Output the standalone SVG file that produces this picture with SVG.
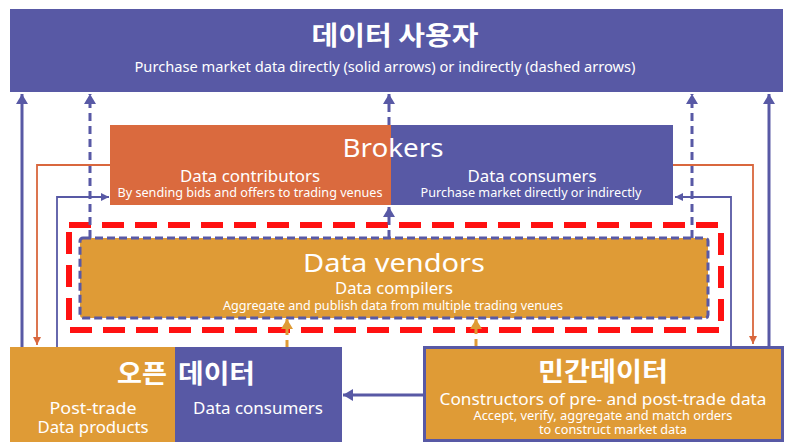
<svg xmlns="http://www.w3.org/2000/svg" width="790" height="446" viewBox="0 0 790 446">
<style>
  text { fill: #ffffff; font-family: "Noto Sans", "Noto Sans CJK KR", sans-serif; text-anchor: middle; }
  .ko { font-family: "Noto Sans CJK KR", "Noto Sans", sans-serif; font-weight: bold; }
  .t1 { font-size: 25px; }
  .t2 { font-size: 15.5px; }
  .t3 { font-size: 12px; }
  .blue { fill: #5859A5; }
  .gold { fill: #DF9B36; }
  .rust { fill: #DA6A3E; }
  .thick { stroke: #5859A5; stroke-width: 3; fill: none; }
  .dash { stroke-dasharray: 8 5; }
  .thinB { stroke: #5859A5; stroke-width: 1.8; fill: none; }
  .thinO { stroke: #D9673D; stroke-width: 1.8; fill: none; }
  .dashO { stroke: #DF9B36; stroke-width: 3; stroke-dasharray: 7 5; fill: none; }
</style>
<defs>
  <marker id="aB" markerUnits="userSpaceOnUse" markerWidth="12" markerHeight="12" refX="10" refY="6" orient="auto">
    <path d="M0,0 L10,6 L0,12 z" fill="#5859A5"/>
  </marker>
  <marker id="aBs" markerUnits="userSpaceOnUse" markerWidth="9" markerHeight="8" refX="8" refY="4" orient="auto">
    <path d="M0,0 L8,4 L0,8 z" fill="#5859A5"/>
  </marker>
  <marker id="aOs" markerUnits="userSpaceOnUse" markerWidth="9" markerHeight="8" refX="8" refY="4" orient="auto">
    <path d="M0,0 L8,4 L0,8 z" fill="#D9673D"/>
  </marker>
  <marker id="aG" markerUnits="userSpaceOnUse" markerWidth="12" markerHeight="12" refX="10" refY="6" orient="auto">
    <path d="M0,0 L10,6 L0,12 z" fill="#DF9B36"/>
  </marker>
</defs>
<rect width="790" height="446" fill="#ffffff"/>

<g id="users">
  <rect class="blue" x="10" y="9" width="773" height="83"/>
  <text class="ko" x="395" y="45" font-size="26" textLength="167" lengthAdjust="spacingAndGlyphs">데이터 사용자</text>
  <text x="385" y="72" font-size="14" textLength="501" lengthAdjust="spacingAndGlyphs">Purchase market data directly (solid arrows) or indirectly (dashed arrows)</text>
</g>

<g id="brokers">
  <rect class="rust" x="110" y="125" width="281" height="80"/>
  <rect class="blue" x="391" y="125" width="282" height="80"/>
  <text class="t1" x="393" y="157" textLength="101" lengthAdjust="spacingAndGlyphs">Brokers</text>
  <text class="t2" x="250" y="182" textLength="140" lengthAdjust="spacingAndGlyphs">Data contributors</text>
  <text class="t3" x="250" y="197" textLength="265" lengthAdjust="spacingAndGlyphs">By sending bids and offers to trading venues</text>
  <text class="t2" x="532" y="182" textLength="129" lengthAdjust="spacingAndGlyphs">Data consumers</text>
  <text class="t3" x="531" y="197" textLength="221" lengthAdjust="spacingAndGlyphs">Purchase market directly or indirectly</text>
</g>

<g id="vendors">
  <rect x="69" y="225" width="652" height="105" fill="none" stroke="#FF1111" stroke-width="6" stroke-dasharray="22 11"/>
  <rect class="gold" x="80" y="238" width="628" height="80" rx="3" stroke="#5859A5" stroke-width="3" stroke-dasharray="8 4"/>
  <text class="t1" x="394" y="272" textLength="182" lengthAdjust="spacingAndGlyphs">Data vendors</text>
  <text class="t2" x="394" y="294" textLength="118" lengthAdjust="spacingAndGlyphs">Data compilers</text>
  <text class="t3" x="393" y="310" textLength="340" lengthAdjust="spacingAndGlyphs">Aggregate and publish data from multiple trading venues</text>
</g>

<g id="open-data">
  <rect class="gold" x="10" y="347" width="165" height="95"/>
  <rect class="blue" x="175" y="347" width="167" height="95"/>
  <text class="ko" x="167" y="383" font-size="26" style="text-anchor:end" textLength="50" lengthAdjust="spacingAndGlyphs">오픈</text>
  <text class="ko" x="178" y="383" font-size="26" style="text-anchor:start" textLength="77" lengthAdjust="spacingAndGlyphs">데이터</text>
  <text class="t2" x="93" y="414" textLength="87" lengthAdjust="spacingAndGlyphs">Post-trade</text>
  <text class="t2" x="93" y="433" textLength="111" lengthAdjust="spacingAndGlyphs">Data products</text>
  <text class="t2" x="258" y="414" textLength="130" lengthAdjust="spacingAndGlyphs">Data consumers</text>
</g>

<g id="private-data">
  <rect class="gold" x="424.5" y="347.5" width="358" height="93" stroke="#5859A5" stroke-width="3"/>
  <text class="ko" x="603" y="381" font-size="26" textLength="130" lengthAdjust="spacingAndGlyphs">민간데이터</text>
  <text x="603" y="405" font-size="16" textLength="327" lengthAdjust="spacingAndGlyphs">Constructors of pre- and post-trade data</text>
  <text class="t3" x="603" y="419.5" textLength="259" lengthAdjust="spacingAndGlyphs">Accept, verify, aggregate and match orders</text>
  <text class="t3" x="613" y="433.5" textLength="148" lengthAdjust="spacingAndGlyphs">to construct market data</text>
</g>

<g id="connectors">
  <line class="thick" x1="22" y1="347" x2="22" y2="94" marker-end="url(#aB)"/>
  <line class="thick" x1="769" y1="346" x2="769" y2="94" marker-end="url(#aB)"/>
  <line class="thick dash" x1="90" y1="238" x2="90" y2="94" marker-end="url(#aB)"/>
  <line class="thick dash" x1="692" y1="238" x2="692" y2="94" marker-end="url(#aB)"/>
  <line class="thick dash" x1="389" y1="125" x2="389" y2="94" marker-end="url(#aB)"/>
  <line class="thick dash" x1="389" y1="238" x2="389" y2="207" marker-end="url(#aB)"/>
  <polyline class="thinO" points="110,165 37,165 37,345" marker-end="url(#aOs)"/>
  <polyline class="thinO" points="673,165 753,165 753,344" marker-end="url(#aOs)"/>
  <polyline class="thinB" points="57,347 57,197 109,197" marker-end="url(#aBs)"/>
  <polyline class="thinB" points="731,346 731,197 675,197" marker-end="url(#aBs)"/>
  <line class="dashO" x1="287" y1="347" x2="287" y2="319" marker-end="url(#aG)"/>
  <line class="dashO" x1="476" y1="346" x2="476" y2="319" marker-end="url(#aG)"/>
  <line class="thick" x1="423" y1="395" x2="343" y2="395" marker-end="url(#aB)"/>
</g>
</svg>
